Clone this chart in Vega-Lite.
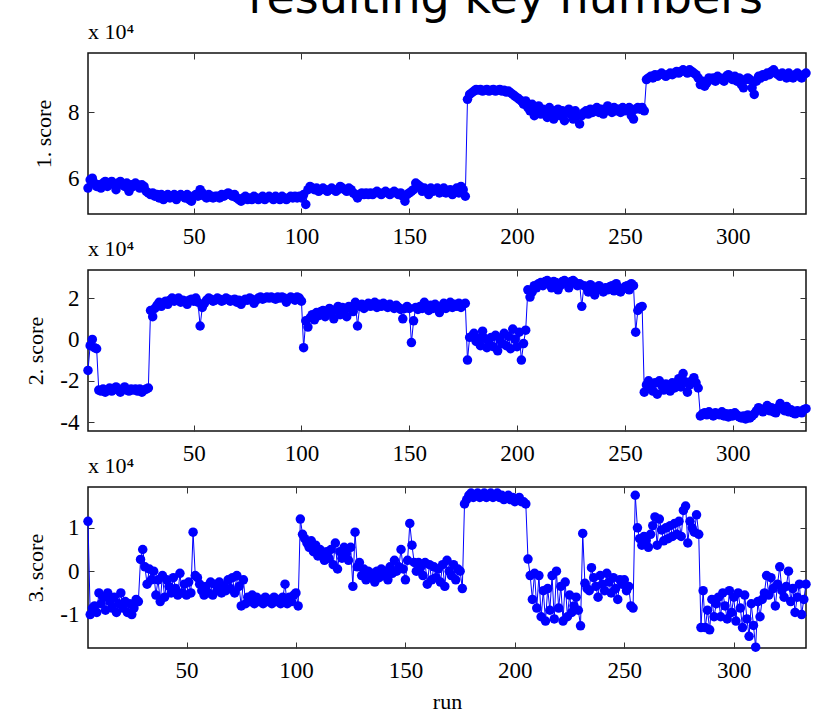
{
"$schema": "https://vega.github.io/schema/vega-lite/v6.json",
"padding": {"left": 24, "top": -25, "right": 0, "bottom": 0},
"bounds": "flush",
"spacing": 56,
"background": "white",
"title": {"text": "resulting key numbers", "font": "DejaVu Sans", "fontSize": 46, "fontWeight": "normal", "color": "#000", "anchor": "middle", "dx": 88, "offset": -3},
"config": {
 "view": {"stroke": "#111", "strokeWidth": 1.5},
 "axis": {"grid": false, "domain": false, "labelFont": "Liberation Serif", "labelFontSize": 23, "labelColor": "#000", "titleFont": "Liberation Serif", "titleFontSize": 22, "titleFontWeight": "normal", "titleColor": "#000", "tickColor": "#333", "tickSize": -6, "tickWidth": 1},
 "title": {"font": "Liberation Serif", "fontWeight": "normal", "color": "#000", "fontSize": 22}
},
"data": {"values": [
{"run":1,"s1":57000,"s2":-15000,"s3":null},
{"run":2,"s1":59500,"s2":-3000,"s3":null},
{"run":3,"s1":60000,"s2":0,"s3":null},
{"run":4,"s1":58500,"s2":-4000,"s3":null},
{"run":5,"s1":57500,"s2":-4500,"s3":11500},
{"run":6,"s1":58000,"s2":-24500,"s3":-10000},
{"run":7,"s1":57000,"s2":-25000,"s3":-8500},
{"run":8,"s1":58500,"s2":-24000,"s3":-8000},
{"run":9,"s1":59000,"s2":-25500,"s3":-9500},
{"run":10,"s1":57500,"s2":-24500,"s3":-5000},
{"run":11,"s1":58500,"s2":-23500,"s3":-7500},
{"run":12,"s1":59000,"s2":-25000,"s3":-6000},
{"run":13,"s1":58000,"s2":-24000,"s3":-9000},
{"run":14,"s1":56500,"s2":-23000,"s3":-5000},
{"run":15,"s1":58500,"s2":-24500,"s3":-7000},
{"run":16,"s1":59000,"s2":-25500,"s3":-8500},
{"run":17,"s1":58000,"s2":-24000,"s3":-6000},
{"run":18,"s1":57500,"s2":-23000,"s3":-9500},
{"run":19,"s1":58500,"s2":-24500,"s3":-7500},
{"run":20,"s1":56000,"s2":-25000,"s3":-5000},
{"run":21,"s1":58000,"s2":-24000,"s3":-8500},
{"run":22,"s1":57500,"s2":-24500,"s3":-7000},
{"run":23,"s1":58500,"s2":-24000,"s3":-9500},
{"run":24,"s1":58000,"s2":-25000,"s3":-7500},
{"run":25,"s1":57000,"s2":-24000,"s3":-10000},
{"run":26,"s1":58000,"s2":-25500,"s3":-8500},
{"run":27,"s1":57500,"s2":-24500,"s3":-6500},
{"run":28,"s1":56000,"s2":-24000,"s3":-7000},
{"run":29,"s1":55500,"s2":-23500,"s3":2700},
{"run":30,"s1":55000,"s2":14000,"s3":5000},
{"run":31,"s1":55500,"s2":11000,"s3":1000},
{"run":32,"s1":54500,"s2":15000,"s3":-3000},
{"run":33,"s1":55000,"s2":16500,"s3":500},
{"run":34,"s1":54000,"s2":18000,"s3":-2000},
{"run":35,"s1":55000,"s2":16000,"s3":0},
{"run":36,"s1":53500,"s2":17500,"s3":-5500},
{"run":37,"s1":54500,"s2":18500,"s3":-2000},
{"run":38,"s1":55000,"s2":17000,"s3":-7000},
{"run":39,"s1":54000,"s2":19000,"s3":-1000},
{"run":40,"s1":54500,"s2":20000,"s3":-6000},
{"run":41,"s1":55000,"s2":18500,"s3":-2000},
{"run":42,"s1":53500,"s2":19500,"s3":-3500},
{"run":43,"s1":54500,"s2":20000,"s3":-5000},
{"run":44,"s1":55000,"s2":18000,"s3":-1500},
{"run":45,"s1":54500,"s2":19000,"s3":-4000},
{"run":46,"s1":54000,"s2":18500,"s3":-5500},
{"run":47,"s1":55000,"s2":17000,"s3":-500},
{"run":48,"s1":53500,"s2":19000,"s3":-5000},
{"run":49,"s1":53000,"s2":19500,"s3":-3000},
{"run":50,"s1":54500,"s2":18500,"s3":-5500},
{"run":51,"s1":55000,"s2":20000,"s3":-2500},
{"run":52,"s1":54500,"s2":18000,"s3":-5000},
{"run":53,"s1":56500,"s2":6500,"s3":9000},
{"run":54,"s1":55500,"s2":15500,"s3":-1000},
{"run":55,"s1":54500,"s2":17500,"s3":-1500},
{"run":56,"s1":54000,"s2":19000,"s3":-3000},
{"run":57,"s1":55000,"s2":20000,"s3":-4500},
{"run":58,"s1":54500,"s2":19500,"s3":-5500},
{"run":59,"s1":54000,"s2":18500,"s3":-3500},
{"run":60,"s1":54500,"s2":19000,"s3":-5000},
{"run":61,"s1":54500,"s2":20000,"s3":-2500},
{"run":62,"s1":54000,"s2":19500,"s3":-5500},
{"run":63,"s1":55000,"s2":18500,"s3":-3000},
{"run":64,"s1":54500,"s2":19000,"s3":-4500},
{"run":65,"s1":55000,"s2":20000,"s3":-2500},
{"run":66,"s1":55500,"s2":19500,"s3":-5000},
{"run":67,"s1":55000,"s2":18500,"s3":-3500},
{"run":68,"s1":54500,"s2":19000,"s3":-4500},
{"run":69,"s1":55000,"s2":19500,"s3":-2000},
{"run":70,"s1":54000,"s2":18000,"s3":-4000},
{"run":71,"s1":53500,"s2":19000,"s3":-1500},
{"run":72,"s1":53000,"s2":17000,"s3":-5000},
{"run":73,"s1":54000,"s2":18500,"s3":-1000},
{"run":74,"s1":54500,"s2":19500,"s3":-3500},
{"run":75,"s1":53500,"s2":19000,"s3":-8000},
{"run":76,"s1":54000,"s2":20000,"s3":-2000},
{"run":77,"s1":53500,"s2":19500,"s3":-7500},
{"run":78,"s1":54500,"s2":17500,"s3":-6000},
{"run":79,"s1":54000,"s2":19000,"s3":-7000},
{"run":80,"s1":53500,"s2":20000,"s3":-5500},
{"run":81,"s1":54000,"s2":20500,"s3":-7500},
{"run":82,"s1":54500,"s2":19500,"s3":-6000},
{"run":83,"s1":53500,"s2":20000,"s3":-7000},
{"run":84,"s1":54000,"s2":20500,"s3":-6500},
{"run":85,"s1":54500,"s2":20000,"s3":-7500},
{"run":86,"s1":54000,"s2":20500,"s3":-6000},
{"run":87,"s1":53500,"s2":20000,"s3":-7000},
{"run":88,"s1":54500,"s2":19500,"s3":-6500},
{"run":89,"s1":54000,"s2":20500,"s3":-7500},
{"run":90,"s1":53500,"s2":20000,"s3":-6000},
{"run":91,"s1":54500,"s2":20500,"s3":-7000},
{"run":92,"s1":54000,"s2":20000,"s3":-6500},
{"run":93,"s1":53500,"s2":18000,"s3":-7500},
{"run":94,"s1":54000,"s2":19500,"s3":-6000},
{"run":95,"s1":54500,"s2":20500,"s3":-3000},
{"run":96,"s1":54000,"s2":20000,"s3":-7500},
{"run":97,"s1":54500,"s2":19000,"s3":-6000},
{"run":98,"s1":54000,"s2":20500,"s3":-7000},
{"run":99,"s1":54500,"s2":20000,"s3":-5500},
{"run":100,"s1":54000,"s2":18500,"s3":-5000},
{"run":101,"s1":55000,"s2":-4000,"s3":-8000},
{"run":102,"s1":52000,"s2":9000,"s3":12000},
{"run":103,"s1":56500,"s2":6000,"s3":8500},
{"run":104,"s1":57500,"s2":10500,"s3":7500},
{"run":105,"s1":57000,"s2":12000,"s3":6500},
{"run":106,"s1":56500,"s2":9500,"s3":5500},
{"run":107,"s1":57000,"s2":13000,"s3":7000},
{"run":108,"s1":56000,"s2":11500,"s3":4500},
{"run":109,"s1":56500,"s2":13500,"s3":6000},
{"run":110,"s1":57000,"s2":14000,"s3":3500},
{"run":111,"s1":56500,"s2":11000,"s3":5000},
{"run":112,"s1":56000,"s2":12500,"s3":4000},
{"run":113,"s1":56500,"s2":15000,"s3":2500},
{"run":114,"s1":57000,"s2":13000,"s3":4500},
{"run":115,"s1":56500,"s2":10000,"s3":3000},
{"run":116,"s1":56000,"s2":14500,"s3":5000},
{"run":117,"s1":56500,"s2":16000,"s3":1500},
{"run":118,"s1":57500,"s2":12000,"s3":6500},
{"run":119,"s1":57000,"s2":15500,"s3":500},
{"run":120,"s1":56500,"s2":14000,"s3":4500},
{"run":121,"s1":56000,"s2":11000,"s3":3000},
{"run":122,"s1":57000,"s2":16000,"s3":5500},
{"run":123,"s1":56500,"s2":15000,"s3":4000},
{"run":124,"s1":55500,"s2":13500,"s3":2500},
{"run":125,"s1":55000,"s2":18000,"s3":5500},
{"run":126,"s1":54000,"s2":6500,"s3":-3500},
{"run":127,"s1":55000,"s2":16000,"s3":9000},
{"run":128,"s1":55500,"s2":17000,"s3":1000},
{"run":129,"s1":55000,"s2":15000,"s3":2000},
{"run":130,"s1":55500,"s2":16500,"s3":-1000},
{"run":131,"s1":55000,"s2":17500,"s3":500},
{"run":132,"s1":55500,"s2":16000,"s3":-2000},
{"run":133,"s1":55000,"s2":17000,"s3":0},
{"run":134,"s1":55500,"s2":18000,"s3":-1500},
{"run":135,"s1":56000,"s2":15500,"s3":-500},
{"run":136,"s1":55500,"s2":17000,"s3":-2500},
{"run":137,"s1":55000,"s2":16000,"s3":0},
{"run":138,"s1":55500,"s2":17500,"s3":-1500},
{"run":139,"s1":56000,"s2":16500,"s3":500},
{"run":140,"s1":55500,"s2":15500,"s3":-1000},
{"run":141,"s1":55000,"s2":17000,"s3":0},
{"run":142,"s1":55500,"s2":16000,"s3":-2000},
{"run":143,"s1":56000,"s2":15000,"s3":1000},
{"run":144,"s1":55500,"s2":16500,"s3":-500},
{"run":145,"s1":55000,"s2":15500,"s3":2500},
{"run":146,"s1":55500,"s2":14500,"s3":0},
{"run":147,"s1":54500,"s2":10000,"s3":1000},
{"run":148,"s1":53000,"s2":15000,"s3":5000},
{"run":149,"s1":55000,"s2":16000,"s3":500},
{"run":150,"s1":55500,"s2":15000,"s3":-2000},
{"run":151,"s1":56000,"s2":-1500,"s3":2500},
{"run":152,"s1":56500,"s2":9000,"s3":11000},
{"run":153,"s1":58500,"s2":15500,"s3":6000},
{"run":154,"s1":58000,"s2":14500,"s3":2000},
{"run":155,"s1":57500,"s2":16000,"s3":0},
{"run":156,"s1":56000,"s2":15000,"s3":2000},
{"run":157,"s1":57000,"s2":18000,"s3":1000},
{"run":158,"s1":56500,"s2":15500,"s3":-1000},
{"run":159,"s1":55000,"s2":14000,"s3":2000},
{"run":160,"s1":57000,"s2":16500,"s3":-3000},
{"run":161,"s1":56000,"s2":15000,"s3":1500},
{"run":162,"s1":56500,"s2":17000,"s3":-2000},
{"run":163,"s1":57000,"s2":15500,"s3":1000},
{"run":164,"s1":55500,"s2":13000,"s3":-1500},
{"run":165,"s1":56000,"s2":16000,"s3":500},
{"run":166,"s1":57000,"s2":17500,"s3":-2500},
{"run":167,"s1":55500,"s2":15000,"s3":1500},
{"run":168,"s1":56000,"s2":16500,"s3":-3500},
{"run":169,"s1":56500,"s2":18000,"s3":2500},
{"run":170,"s1":55000,"s2":15500,"s3":0},
{"run":171,"s1":56000,"s2":17000,"s3":-1000},
{"run":172,"s1":57000,"s2":16000,"s3":1500},
{"run":173,"s1":55500,"s2":17500,"s3":-2000},
{"run":174,"s1":57500,"s2":15500,"s3":500},
{"run":175,"s1":56500,"s2":17000,"s3":0},
{"run":176,"s1":54500,"s2":17500,"s3":-4000},
{"run":177,"s1":84000,"s2":-10000,"s3":15500},
{"run":178,"s1":85500,"s2":1000,"s3":16500},
{"run":179,"s1":86000,"s2":1500,"s3":17500},
{"run":180,"s1":86500,"s2":3000,"s3":18000},
{"run":181,"s1":87000,"s2":-1000,"s3":17000},
{"run":182,"s1":86800,"s2":500,"s3":17500},
{"run":183,"s1":87000,"s2":-3000,"s3":18000},
{"run":184,"s1":86500,"s2":4000,"s3":17000},
{"run":185,"s1":86800,"s2":500,"s3":17500},
{"run":186,"s1":87000,"s2":-4000,"s3":18000},
{"run":187,"s1":86500,"s2":-2000,"s3":17000},
{"run":188,"s1":86800,"s2":1000,"s3":17500},
{"run":189,"s1":87000,"s2":-3500,"s3":18000},
{"run":190,"s1":86500,"s2":2000,"s3":17000},
{"run":191,"s1":86800,"s2":-5500,"s3":17500},
{"run":192,"s1":87000,"s2":0,"s3":18000},
{"run":193,"s1":86500,"s2":-2000,"s3":17000},
{"run":194,"s1":86800,"s2":3000,"s3":17500},
{"run":195,"s1":86200,"s2":-3000,"s3":16500},
{"run":196,"s1":86500,"s2":1500,"s3":17000},
{"run":197,"s1":86000,"s2":-4500,"s3":17500},
{"run":198,"s1":85500,"s2":5000,"s3":16500},
{"run":199,"s1":85000,"s2":0,"s3":17000},
{"run":200,"s1":84500,"s2":-3500,"s3":16000},
{"run":201,"s1":84000,"s2":3500,"s3":16500},
{"run":202,"s1":83500,"s2":-10000,"s3":17000},
{"run":203,"s1":82500,"s2":-2000,"s3":16000},
{"run":204,"s1":83500,"s2":4500,"s3":16000},
{"run":205,"s1":81500,"s2":24000,"s3":15500},
{"run":206,"s1":80500,"s2":20500,"s3":2800},
{"run":207,"s1":82500,"s2":23000,"s3":-1000},
{"run":208,"s1":79000,"s2":26000,"s3":-6500},
{"run":209,"s1":81000,"s2":25000,"s3":-500},
{"run":210,"s1":82000,"s2":27000,"s3":-8500},
{"run":211,"s1":79500,"s2":27500,"s3":-1000},
{"run":212,"s1":81000,"s2":26000,"s3":-10500},
{"run":213,"s1":80500,"s2":28000,"s3":-4500},
{"run":214,"s1":78500,"s2":28500,"s3":-11500},
{"run":215,"s1":81500,"s2":27000,"s3":-4000},
{"run":216,"s1":80000,"s2":25000,"s3":-9000},
{"run":217,"s1":78000,"s2":28000,"s3":-1000},
{"run":218,"s1":80500,"s2":27500,"s3":-11000},
{"run":219,"s1":81000,"s2":24000,"s3":0},
{"run":220,"s1":79000,"s2":26000,"s3":-8500},
{"run":221,"s1":80500,"s2":28000,"s3":-3500},
{"run":222,"s1":77500,"s2":28500,"s3":-11500},
{"run":223,"s1":80000,"s2":27000,"s3":-2500},
{"run":224,"s1":81000,"s2":25000,"s3":-10500},
{"run":225,"s1":79500,"s2":28000,"s3":-5500},
{"run":226,"s1":78000,"s2":28500,"s3":-9500},
{"run":227,"s1":80500,"s2":27500,"s3":-8000},
{"run":228,"s1":79000,"s2":26000,"s3":-6000},
{"run":229,"s1":76500,"s2":27000,"s3":-9000},
{"run":230,"s1":79000,"s2":16000,"s3":-12600},
{"run":231,"s1":80000,"s2":26000,"s3":8700},
{"run":232,"s1":80500,"s2":25500,"s3":-2800},
{"run":233,"s1":79500,"s2":23000,"s3":-4000},
{"run":234,"s1":81000,"s2":26500,"s3":-4500},
{"run":235,"s1":80000,"s2":25500,"s3":800},
{"run":236,"s1":80500,"s2":21500,"s3":-1500},
{"run":237,"s1":81500,"s2":24000,"s3":-3500},
{"run":238,"s1":80000,"s2":26000,"s3":-6000},
{"run":239,"s1":81000,"s2":24500,"s3":-1000},
{"run":240,"s1":79500,"s2":23000,"s3":-3000},
{"run":241,"s1":80500,"s2":25000,"s3":-4500},
{"run":242,"s1":82000,"s2":24000,"s3":-500},
{"run":243,"s1":81000,"s2":25500,"s3":-2500},
{"run":244,"s1":80000,"s2":26000,"s3":-5000},
{"run":245,"s1":81500,"s2":23500,"s3":-1500},
{"run":246,"s1":80500,"s2":27000,"s3":-4000},
{"run":247,"s1":81000,"s2":25000,"s3":-6500},
{"run":248,"s1":80000,"s2":23000,"s3":-2000},
{"run":249,"s1":81500,"s2":24500,"s3":-3000},
{"run":250,"s1":80500,"s2":25500,"s3":-2000},
{"run":251,"s1":81000,"s2":26000,"s3":-4500},
{"run":252,"s1":81500,"s2":24000,"s3":-3500},
{"run":253,"s1":79000,"s2":27000,"s3":-8000},
{"run":254,"s1":78000,"s2":26000,"s3":-8500},
{"run":255,"s1":81000,"s2":3500,"s3":17500},
{"run":256,"s1":81500,"s2":14000,"s3":10000},
{"run":257,"s1":81000,"s2":15500,"s3":7500},
{"run":258,"s1":81500,"s2":16000,"s3":6000},
{"run":259,"s1":80500,"s2":-25500,"s3":8000},
{"run":260,"s1":90000,"s2":-22000,"s3":7000},
{"run":261,"s1":90500,"s2":-20000,"s3":5500},
{"run":262,"s1":91000,"s2":-23000,"s3":8500},
{"run":263,"s1":90500,"s2":-25000,"s3":10500},
{"run":264,"s1":91500,"s2":-21000,"s3":12500},
{"run":265,"s1":91000,"s2":-26500,"s3":6000},
{"run":266,"s1":91500,"s2":-20000,"s3":12000},
{"run":267,"s1":92000,"s2":-22000,"s3":9500},
{"run":268,"s1":91500,"s2":-24500,"s3":7000},
{"run":269,"s1":91000,"s2":-21500,"s3":10000},
{"run":270,"s1":91500,"s2":-23000,"s3":7500},
{"run":271,"s1":92000,"s2":-25000,"s3":10500},
{"run":272,"s1":91500,"s2":-21000,"s3":8000},
{"run":273,"s1":92000,"s2":-23500,"s3":11000},
{"run":274,"s1":92500,"s2":-22000,"s3":8500},
{"run":275,"s1":92000,"s2":-19000,"s3":11500},
{"run":276,"s1":92500,"s2":-23000,"s3":8000},
{"run":277,"s1":93000,"s2":-16500,"s3":14000},
{"run":278,"s1":92500,"s2":-20500,"s3":15000},
{"run":279,"s1":92000,"s2":-25500,"s3":6500},
{"run":280,"s1":93000,"s2":-22000,"s3":11500},
{"run":281,"s1":92500,"s2":-20000,"s3":10000},
{"run":282,"s1":92000,"s2":-18500,"s3":9000},
{"run":283,"s1":91500,"s2":-21000,"s3":13000},
{"run":284,"s1":90500,"s2":-23500,"s3":8500},
{"run":285,"s1":88500,"s2":-37000,"s3":-13000},
{"run":286,"s1":89500,"s2":-36000,"s3":-4500},
{"run":287,"s1":88000,"s2":-35500,"s3":-13000},
{"run":288,"s1":89000,"s2":-36500,"s3":-9000},
{"run":289,"s1":90500,"s2":-35000,"s3":-13500},
{"run":290,"s1":90000,"s2":-36000,"s3":-6500},
{"run":291,"s1":90500,"s2":-37000,"s3":-10500},
{"run":292,"s1":89500,"s2":-35500,"s3":-7500},
{"run":293,"s1":91000,"s2":-36000,"s3":-6000},
{"run":294,"s1":90500,"s2":-36500,"s3":-10500},
{"run":295,"s1":90000,"s2":-35000,"s3":-5000},
{"run":296,"s1":89500,"s2":-37000,"s3":-8000},
{"run":297,"s1":91000,"s2":-36000,"s3":-11000},
{"run":298,"s1":91500,"s2":-37500,"s3":-4500},
{"run":299,"s1":90500,"s2":-36000,"s3":-9500},
{"run":300,"s1":90000,"s2":-37000,"s3":-6000},
{"run":301,"s1":91000,"s2":-35500,"s3":-11500},
{"run":302,"s1":89500,"s2":-36500,"s3":-5000},
{"run":303,"s1":90500,"s2":-37500,"s3":-8500},
{"run":304,"s1":88500,"s2":-38000,"s3":-13000},
{"run":305,"s1":87500,"s2":-37000,"s3":-5500},
{"run":306,"s1":90000,"s2":-38500,"s3":-11000},
{"run":307,"s1":90500,"s2":-36500,"s3":-15000},
{"run":308,"s1":90000,"s2":-38000,"s3":-7500},
{"run":309,"s1":87500,"s2":-37000,"s3":-12500},
{"run":310,"s1":85500,"s2":-36000,"s3":-17500},
{"run":311,"s1":89500,"s2":-34500,"s3":-7000},
{"run":312,"s1":91000,"s2":-33000,"s3":-10500},
{"run":313,"s1":90500,"s2":-34000,"s3":-6500},
{"run":314,"s1":91500,"s2":-35000,"s3":-5000},
{"run":315,"s1":91000,"s2":-33500,"s3":-1000},
{"run":316,"s1":92000,"s2":-32000,"s3":-5500},
{"run":317,"s1":91500,"s2":-34500,"s3":-1500},
{"run":318,"s1":92500,"s2":-33000,"s3":-4000},
{"run":319,"s1":93000,"s2":-35000,"s3":-8000},
{"run":320,"s1":92000,"s2":-35500,"s3":-3000},
{"run":321,"s1":91500,"s2":-33000,"s3":1000},
{"run":322,"s1":91000,"s2":-31000,"s3":-4500},
{"run":323,"s1":92000,"s2":-33500,"s3":-6000},
{"run":324,"s1":91500,"s2":-34500,"s3":-3500},
{"run":325,"s1":90500,"s2":-32500,"s3":0},
{"run":326,"s1":92000,"s2":-35000,"s3":-7000},
{"run":327,"s1":91000,"s2":-34000,"s3":-4000},
{"run":328,"s1":90500,"s2":-35500,"s3":-9500},
{"run":329,"s1":91500,"s2":-36000,"s3":-6000},
{"run":330,"s1":92000,"s2":-34500,"s3":-3000},
{"run":331,"s1":91000,"s2":-35000,"s3":-10000},
{"run":332,"s1":90500,"s2":-35500,"s3":-6500},
{"run":333,"s1":91500,"s2":-34000,"s3":-3000},
{"run":334,"s1":92000,"s2":-33500,"s3":null}
]},
"vconcat": [
{
 "width": 718, "height": 161,
 "title": {"text": "x 10⁴", "anchor": "start", "frame": "group", "offset": 9},
 "layer": [
  {"mark": {"type": "line", "color": "#0000ff", "strokeWidth": 1},
   "encoding": {
    "x": {"field": "run", "type": "quantitative", "scale": {"domain": [1, 334], "nice": false, "zero": false}, "axis": {"orient": "bottom", "values": [50,100,150,200,250,300], "title": null, "labelPadding": 17}},
    "y": {"field": "s1", "type": "quantitative", "scale": {"domain": [49100, 98100], "nice": false, "zero": false}, "axis": {"orient": "left", "values": [60000, 80000], "labelExpr": "datum.value / 10000", "title": "1. score", "labelPadding": 15, "titlePadding": 12}}
   }},
  {"mark": {"type": "point", "filled": true, "color": "#0000ff", "size": 90, "opacity": 1},
   "encoding": {
    "x": {"field": "run", "type": "quantitative", "scale": {"domain": [1, 334], "nice": false, "zero": false}, "axis": {"orient": "top", "values": [50,100,150,200,250,300], "labels": false, "title": null}},
    "y": {"field": "s1", "type": "quantitative", "scale": {"domain": [49100, 98100], "nice": false, "zero": false}, "axis": {"orient": "right", "values": [60000, 80000], "labels": false, "title": null}}
   }}
 ],
 "resolve": {"axis": {"x": "independent", "y": "independent"}}
},
{
 "width": 718, "height": 161,
 "title": {"text": "x 10⁴", "anchor": "start", "frame": "group", "offset": 9},
 "layer": [
  {"mark": {"type": "line", "color": "#0000ff", "strokeWidth": 1},
   "encoding": {
    "x": {"field": "run", "type": "quantitative", "scale": {"domain": [1, 334], "nice": false, "zero": false}, "axis": {"orient": "bottom", "values": [50,100,150,200,250,300], "title": null, "labelPadding": 17}},
    "y": {"field": "s2", "type": "quantitative", "scale": {"domain": [-44300, 33600], "nice": false, "zero": false}, "axis": {"orient": "left", "values": [-40000, -20000, 0, 20000], "labelExpr": "datum.value / 10000", "title": "2. score", "labelPadding": 15, "titlePadding": 12}}
   }},
  {"mark": {"type": "point", "filled": true, "color": "#0000ff", "size": 90, "opacity": 1},
   "encoding": {
    "x": {"field": "run", "type": "quantitative", "scale": {"domain": [1, 334], "nice": false, "zero": false}, "axis": {"orient": "top", "values": [50,100,150,200,250,300], "labels": false, "title": null}},
    "y": {"field": "s2", "type": "quantitative", "scale": {"domain": [-44300, 33600], "nice": false, "zero": false}, "axis": {"orient": "right", "values": [-40000, -20000, 0, 20000], "labels": false, "title": null}}
   }}
 ],
 "resolve": {"axis": {"x": "independent", "y": "independent"}}
},
{
 "width": 718, "height": 161,
 "title": {"text": "x 10⁴", "anchor": "start", "frame": "group", "offset": 9},
 "layer": [
  {"mark": {"type": "line", "color": "#0000ff", "strokeWidth": 1},
   "encoding": {
    "x": {"field": "run", "type": "quantitative", "scale": {"domain": [5, 333], "nice": false, "zero": false}, "axis": {"orient": "bottom", "values": [50,100,150,200,250,300], "title": "run", "labelPadding": 17, "titlePadding": 9}},
    "y": {"field": "s3", "type": "quantitative", "scale": {"domain": [-17700, 19400], "nice": false, "zero": false}, "axis": {"orient": "left", "values": [-10000, 0, 10000], "labelExpr": "datum.value / 10000", "title": "3. score", "labelPadding": 15, "titlePadding": 12}}
   }},
  {"mark": {"type": "point", "filled": true, "color": "#0000ff", "size": 90, "opacity": 1},
   "encoding": {
    "x": {"field": "run", "type": "quantitative", "scale": {"domain": [5, 333], "nice": false, "zero": false}, "axis": {"orient": "top", "values": [50,100,150,200,250,300], "labels": false, "title": null}},
    "y": {"field": "s3", "type": "quantitative", "scale": {"domain": [-17700, 19400], "nice": false, "zero": false}, "axis": {"orient": "right", "values": [-10000, 0, 10000], "labels": false, "title": null}}
   }}
 ],
 "resolve": {"axis": {"x": "independent", "y": "independent"}}
}
]
}
